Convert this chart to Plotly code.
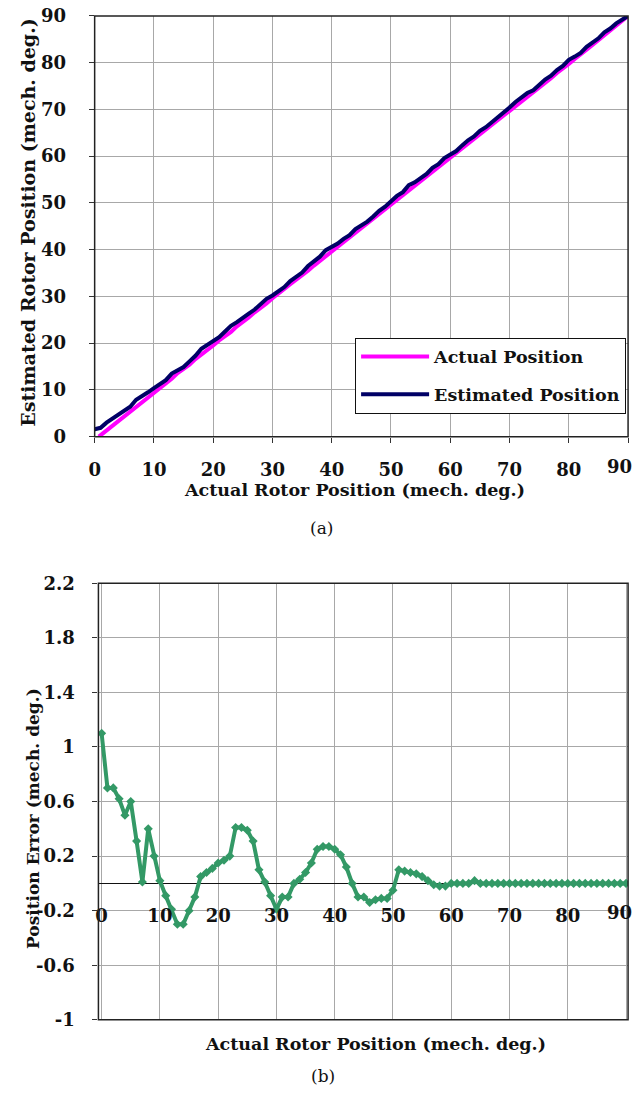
import plotly.graph_objects as go

# ---------------- data ----------------
# Chart (a): actual vs estimated rotor position (mech. deg.)
actual_x = [0.7, 1, 2, 3, 4, 5, 6, 7, 8, 9, 10, 11, 12, 13, 14, 15, 16, 17, 18, 19,
            20, 21, 22, 23, 24, 25, 26, 27, 28, 29, 30, 31, 32, 33, 34, 35, 36, 37, 38, 39,
            40, 41, 42, 43, 44, 45, 46, 47, 48, 49, 50, 51, 52, 53, 54, 55, 56, 57, 58, 59,
            60, 61, 62, 63, 64, 65, 66, 67, 68, 69, 70, 71, 72, 73, 74, 75, 76, 77, 78, 79,
            80, 81, 82, 83, 84, 85, 86, 87, 88, 89, 90]
actual_y = [0.0, 0.3, 1.4, 2.3, 3.5, 4.4, 5.3, 6.5, 7.4, 8.3, 9.5, 10.4, 11.5, 12.4, 13.6, 14.5, 15.4, 16.6, 17.5, 18.4,
            19.5, 20.6, 21.5, 22.4, 23.6, 24.5, 25.5, 26.6, 27.5, 28.5, 29.6, 30.5, 31.6, 32.6, 33.5, 34.6, 35.5, 36.6, 37.6, 38.5,
            39.6, 40.6, 41.5, 42.6, 43.6, 44.6, 45.5, 46.6, 47.6, 48.6, 49.6, 50.6, 51.6, 52.6, 53.6, 54.7, 55.6, 56.6, 57.7, 58.6,
            59.6, 60.7, 61.6, 62.7, 63.7, 64.6, 65.7, 66.7, 67.6, 68.7, 69.7, 70.7, 71.7, 72.7, 73.7, 74.7, 75.7, 76.7, 77.8, 78.7,
            79.7, 80.8, 81.7, 82.8, 83.8, 84.8, 85.8, 86.8, 87.8, 88.9, 90.0]
est_x = [0, 1, 2, 3, 4, 5, 6, 7, 8, 9, 10, 11, 12, 13, 14, 15, 16, 17, 18, 19,
         20, 21, 22, 23, 24, 25, 26, 27, 28, 29, 30, 31, 32, 33, 34, 35, 36, 37, 38, 39,
         40, 41, 42, 43, 44, 45, 46, 47, 48, 49, 50, 51, 52, 53, 54, 55, 56, 57, 58, 59,
         60, 61, 62, 63, 64, 65, 66, 67, 68, 69, 70, 71, 72, 73, 74, 75, 76, 77, 78, 79,
         80, 81, 82, 83, 84, 85, 86, 87, 88, 89, 90]
est_y = [1.6, 1.9, 3.0, 3.8, 4.6, 5.6, 6.4, 7.9, 8.6, 9.5, 10.4, 11.2, 12.1, 13.5, 14.2, 14.9, 16.1, 17.3, 18.8, 19.6,
         20.4, 21.3, 22.5, 23.7, 24.5, 25.3, 26.3, 27.2, 28.3, 29.5, 30.2, 31.1, 32.0, 33.3, 34.2, 35.1, 36.5, 37.6, 38.5, 39.9,
         40.6, 41.3, 42.3, 43.1, 44.4, 45.2, 46.0, 47.1, 48.3, 49.2, 50.4, 51.5, 52.3, 53.8, 54.4, 55.3, 56.2, 57.5, 58.3, 59.6,
         60.4, 61.1, 62.3, 63.4, 64.2, 65.4, 66.2, 67.2, 68.3, 69.2, 70.4, 71.6, 72.5, 73.5, 74.1, 75.2, 76.4, 77.2, 78.4, 79.3,
         80.6, 81.3, 82.1, 83.4, 84.3, 85.2, 86.5, 87.3, 88.4, 89.2, 90.0]

# Chart (b): position error vs actual rotor position
err_x = [0, 1, 2, 3, 4, 5, 6, 7, 8, 9, 10, 11, 12, 13, 14, 15, 16, 17, 18, 19,
         20, 21, 22, 23, 24, 25, 26, 27, 28, 29, 30, 31, 32, 33, 34, 35, 36, 37, 38, 39,
         40, 41, 42, 43, 44, 45, 46, 47, 48, 49, 50, 51, 52, 53, 54, 55, 56, 57, 58, 59,
         60, 61, 62, 63, 64, 65, 66, 67, 68, 69, 70, 71, 72, 73, 74, 75, 76, 77, 78, 79,
         80, 81, 82, 83, 84, 85, 86, 87, 88, 89, 90]
err_y = [1.1, 0.7, 0.7, 0.62, 0.5, 0.6, 0.31, 0.01, 0.4, 0.2,
         0.02, -0.09, -0.19, -0.3, -0.3, -0.2, -0.1, 0.05, 0.08, 0.11,
         0.15, 0.17, 0.2, 0.41, 0.41, 0.39, 0.31, 0.1, 0.01, -0.09,
         -0.19, -0.1, -0.1, 0.0, 0.03, 0.08, 0.15, 0.25, 0.27, 0.27,
         0.25, 0.21, 0.12, 0.0, -0.1, -0.1, -0.14, -0.12, -0.11, -0.11,
         -0.05, 0.1, 0.09, 0.08, 0.07, 0.05, 0.02, -0.01, -0.02, -0.02,
         0.0, 0.0, 0.0, 0.0, 0.02, 0.0, 0.0, 0.0, 0.0, 0.0,
         0.0, 0.0, 0.0, 0.0, 0.0, 0.0, 0.0, 0.0, 0.0, 0.0,
         0.0, 0.0, 0.0, 0.0, 0.0, 0.0, 0.0, 0.0, 0.0, 0.0, 0.0]

top_ticks = [0, 10, 20, 30, 40, 50, 60, 70, 80, 90]
# the last label (90) sits at the right frame edge; it is placed separately so it stays on the page
x_ticktext = ["0", "10", "20", "30", "40", "50", "60", "70", "80", ""]
last_x_label = "90"
err_tickvals = [-1, -0.6, -0.2, 0.2, 0.6, 1, 1.4, 1.8, 2.2]
err_ticktext = ["-1", "-0.6", "-0.2", "0.2", "0.6", "1", "1.4", "1.8", "2.2"]

# ---------------- styling ----------------
W, H = 636, 1096
BOLD = "DejaVu Serif"
TXT = "#111111"
GRID = "#a8a8a8"


def px_x(p):
    return p / W


def px_y(p):
    return 1 - p / H


fig = go.Figure()

fig.add_trace(go.Scatter(x=actual_x, y=actual_y, mode="lines", name="Actual Position",
                         legendgroup="a",
                         line=dict(color="#ff00ff", width=4), xaxis="x", yaxis="y"))
fig.add_trace(go.Scatter(x=est_x, y=est_y, mode="lines", name="Estimated Position",
                         legendgroup="b",
                         line=dict(color="#000066", width=4), xaxis="x", yaxis="y"))
fig.add_trace(go.Scatter(x=err_x, y=err_y, mode="lines+markers", name="Position Error",
                         line=dict(color="#339966", width=4),
                         marker=dict(symbol="diamond", size=7, color="#339966"),
                         showlegend=False, xaxis="x2", yaxis="y2"))

tickfont = dict(family=BOLD, size=18, color=TXT, weight="bold")

fig.update_layout(
    width=W, height=H, autosize=False,
    margin=dict(l=0, r=0, t=0, b=0, pad=0),
    paper_bgcolor="white", plot_bgcolor="white",
    showlegend=True,
    legend=dict(x=px_x(626), xanchor="right", y=px_y(333), yanchor="top",
                bgcolor="white", bordercolor="#111111", borderwidth=1,
                font=dict(family=BOLD, size=17.5, color=TXT, weight="bold"),
                itemwidth=68, tracegroupgap=12, traceorder="grouped"),
    xaxis=dict(domain=[px_x(89.5), px_x(628)], anchor="y", range=[0, 90],
               tickvals=top_ticks, ticktext=x_ticktext,
               showgrid=True, gridcolor=GRID, gridwidth=1,
               zeroline=False, ticks="outside", ticklen=5, tickcolor="#333",
               ticklabelstandoff=12, tickfont=tickfont),
    yaxis=dict(domain=[px_y(434), px_y(5)], anchor="x", range=[0, 90],
               tickvals=top_ticks, showgrid=True, gridcolor=GRID, gridwidth=1,
               zeroline=False, ticks="outside", ticklen=5, tickcolor="#333",
               ticklabelstandoff=19, tickfont=tickfont),
    xaxis2=dict(domain=[px_x(93.3), px_x(628)], anchor="free", position=px_y(889.5),
                range=[-0.55, 90.35], tickvals=top_ticks, ticktext=x_ticktext,
                showgrid=True, gridcolor=GRID, gridwidth=1, zeroline=False,
                showline=False, ticks="", ticklabelstandoff=20, tickfont=tickfont),
    yaxis2=dict(domain=[px_y(1028.5), px_y(583.5)], anchor="x2", range=[-1, 2.2],
                tickvals=err_tickvals, ticktext=err_ticktext, showgrid=True,
                gridcolor=GRID, gridwidth=1, zeroline=True, zerolinecolor="#111111",
                zerolinewidth=1.2, ticks="outside", ticklen=5, tickcolor="#333",
                ticklabelstandoff=14, tickfont=tickfont),
)

# plot frames
for xr, yr in (("x domain", "y domain"), ("x2 domain", "y2 domain")):
    fig.add_shape(type="rect", xref=xr, yref=yr, x0=0, x1=1, y0=0, y1=1,
                  line=dict(color="#222222", width=1.5), layer="above")

titlefont = dict(family=BOLD, size=17.5, color=TXT, weight="bold")
ann = [
    dict(text="Actual Rotor Position (mech. deg.)", x=px_x(352), y=px_y(488),
         font=titlefont),
    dict(text="Estimated Rotor Position (mech. deg.)", x=px_x(22), y=px_y(216),
         textangle=-90, font=dict(titlefont, size=19)),
    dict(text="Actual Rotor Position (mech. deg.)", x=px_x(373), y=px_y(1053),
         font=titlefont),
    dict(text="Position Error (mech. deg.)", x=px_x(27), y=px_y(823),
         textangle=-90, font=dict(titlefont, size=17)),
    dict(text="(a)", x=px_x(318), y=px_y(527.5),
         font=dict(family="DejaVu Serif", size=17, color=TXT)),
    dict(text="(b)", x=px_x(320), y=px_y(1086),
         font=dict(family="DejaVu Serif", size=17, color=TXT)),
    dict(text=last_x_label, x=px_x(634), y=px_y(464.5), xanchor="right",
         font=tickfont),
    dict(text=last_x_label, x=px_x(634), y=px_y(919.5), xanchor="right",
         font=tickfont),
]
for a in ann:
    a.setdefault("xanchor", "center")
    fig.add_annotation(xref="paper", yref="paper", showarrow=False,
                       yanchor="middle", **a)

fig.write_html(
    "out.html",
    config={"displayModeBar": False},
    post_script=(
        "var gd=document.getElementById('{plot_id}');"
        "gd.style.position='fixed';gd.style.top='0';gd.style.left='0';"
        "document.documentElement.style.margin='0';"
        "document.documentElement.style.overflow='hidden';"
        "document.body.style.margin='0';document.body.style.padding='0';"
        "document.body.style.overflow='hidden';"
    ),
)
